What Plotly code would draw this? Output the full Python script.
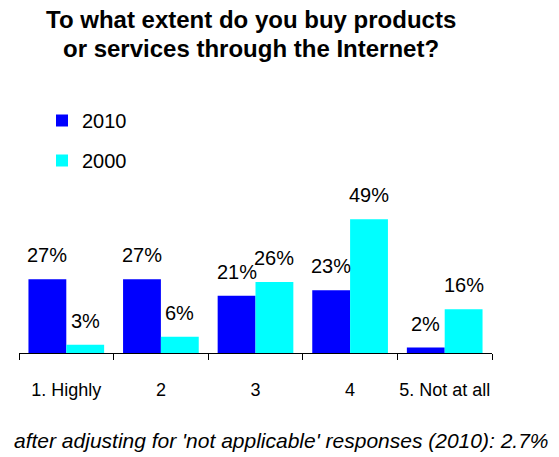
import plotly.graph_objects as go

categories = ["1. Highly", "2", "3", "4", "5. Not at all"]
values_2010 = [27, 27, 21, 23, 2]
values_2000 = [3, 6, 26, 49, 16]
series_names = ["2010", "2000"]
colors = ["#0000FF", "#00FFFF"]
title_lines = ["To what extent do you buy products", "or services through the Internet?"]

fig = go.Figure()
for name, vals, col, grp in [(series_names[0], values_2010, colors[0], "a"),
                             (series_names[1], values_2000, colors[1], "b")]:
    fig.add_trace(go.Bar(x=categories, y=vals, name=name, marker_color=col,
                         marker_line_width=0, legendgroup=grp))

annotations = []
for i, cat in enumerate(categories):
    for off, vals in [(-0.2, values_2010), (0.2, values_2000)]:
        annotations.append(dict(x=i + off, y=vals[i], xref="x", yref="y",
                                text=f"{vals[i]}%", showarrow=False,
                                yanchor="bottom", yshift=11,
                                font=dict(family="Liberation Sans, Arial", size=20, color="black")))

# plot area: x 19..492 px, y 203..353 px
def px_x(p):
    return (p - 19) / 473

def px_y(p):
    return (353 - p) / 150

for line, ypix in zip(title_lines, [20, 48]):
    annotations.append(dict(xref="paper", yref="paper", x=px_x(251), y=px_y(ypix),
                            text=f"<b>{line}</b>", showarrow=False,
                            xanchor="center", yanchor="middle",
                            font=dict(family="Liberation Sans, Arial", size=24, color="black")))

annotations.append(dict(xref="paper", yref="paper", x=px_x(281), y=px_y(440),
                        text="<i>after adjusting for 'not applicable' responses (2010): 2.7%</i>",
                        showarrow=False, xanchor="center", yanchor="middle",
                        font=dict(family="Liberation Sans, Arial", size=21, color="black")))

fig.update_layout(
    width=559, height=457,
    margin=dict(l=19, r=67, t=203, b=104),
    paper_bgcolor="white", plot_bgcolor="white",
    barmode="group", bargap=0.2, bargroupgap=0,
    legend=dict(x=px_x(42), y=1 + (203 - 101) / 150, xanchor="left", yanchor="top",
                traceorder="grouped", tracegroupgap=11, bgcolor="rgba(0,0,0,0)",
                font=dict(family="Liberation Sans, Arial", size=20, color="black")),
    xaxis=dict(type="category", tickson="boundaries", ticks="outside", ticklen=6,
               tickangle=0, ticklabelstandoff=20,
               tickcolor="black", showline=True, linecolor="black", linewidth=1,
               tickfont=dict(family="Liberation Sans Narrow, Arial Narrow, Liberation Sans", size=18, color="black"),
               showgrid=False, fixedrange=True),
    yaxis=dict(range=[0, 55], visible=False, showgrid=False, zeroline=False, fixedrange=True),
    annotations=annotations,
    showlegend=True,
)
fig.write_html("out.html")
